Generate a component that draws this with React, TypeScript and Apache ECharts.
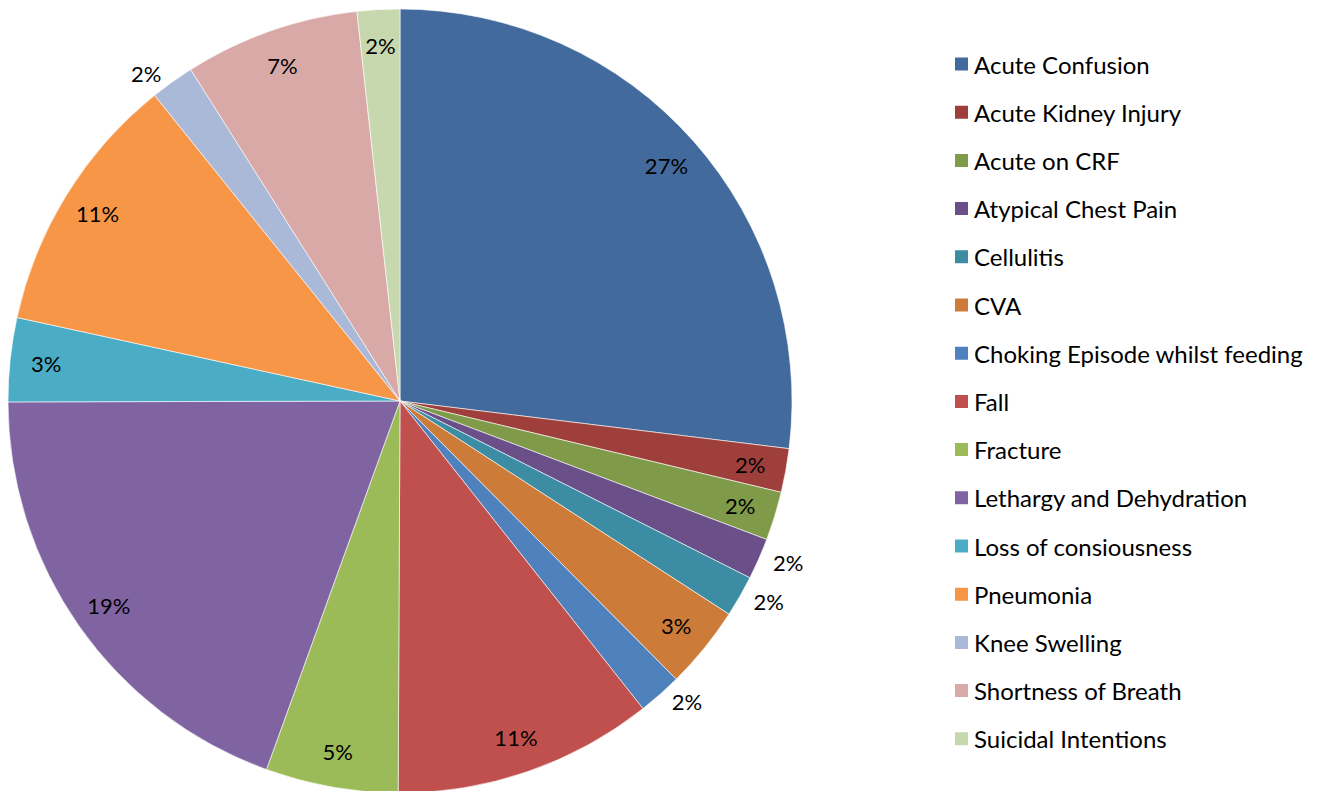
import React, { useEffect, useRef } from "react";
import * as echarts from "echarts";

const categories = [
  "Acute Confusion",
  "Acute Kidney Injury",
  "Acute on CRF",
  "Atypical Chest Pain",
  "Cellulitis",
  "CVA",
  "Choking Episode whilst feeding",
  "Fall",
  "Fracture",
  "Lethargy and Dehydration",
  "Loss of consiousness",
  "Pneumonia",
  "Knee Swelling",
  "Shortness of Breath",
  "Suicidal Intentions",
];

const values = [26.9, 1.8, 2.0, 1.7, 1.7, 3.4, 1.8, 10.7, 5.45, 19.4, 3.45, 10.8, 1.8, 7.2, 1.75];

const colors = [
  "#426A9C", "#9E3F3C", "#7F9A48", "#6A4F88", "#3C8DA3", "#CC7B38",
  "#4F81BD", "#C0504D", "#9BBB59", "#8064A2", "#4BACC6", "#F79646",
  "#AAB9D8", "#D9A9A8", "#C7D8AE",
];

const outsideLabels = ["Atypical Chest Pain", "Cellulitis", "Choking Episode whilst feeding", "Knee Swelling"];

const FONT = "Lato, 'Open Sans', sans-serif";

export default function App() {
  const ref = useRef<HTMLDivElement>(null);
  useEffect(() => {
    if (!ref.current) return;
    const chart = echarts.init(ref.current, undefined, { renderer: "svg" });
    const center = [400, 401];
    const R = 392;
    const baseData = categories.map((name, i) => ({ name, value: values[i] }));
    const labelData = categories.map((name, i) => {
      const outside = outsideLabels.includes(name);
      return {
        name,
        value: values[i],
        label: { position: outside ? "outside" : "inside" },
        labelLine: { show: false, length: 10, length2: 0 },
      };
    });
    chart.setOption({
      animation: false,
      color: colors,
      legend: {
        orient: "vertical",
        left: 948,
        top: 47,
        icon: "rect",
        itemWidth: 15,
        itemHeight: 15,
        itemGap: 24.2,
        selectedMode: false,
        data: categories,
        textStyle: { fontFamily: FONT, fontSize: 24, color: "#000", lineHeight: 24 },
      },
      series: [
        {
          type: "pie",
          center,
          radius: [0, R],
          startAngle: 90,
          clockwise: true,
          data: baseData,
          label: { show: false },
          labelLine: { show: false },
          itemStyle: { borderColor: "#ffffff", borderWidth: 0.6 },
          emphasis: { disabled: true },
        },
        {
          type: "pie",
          center,
          radius: [R * 0.8, R],
          startAngle: 90,
          clockwise: true,
          silent: true,
          legendHoverLink: false,
          avoidLabelOverlap: false,
          data: labelData,
          itemStyle: { color: "rgba(0,0,0,0)", borderWidth: 0 },
          label: {
            show: true,
            formatter: (p: any) => Math.round(p.percent) + "%",
            fontFamily: FONT,
            fontSize: 22,
            color: "#000",
          },
          emphasis: { disabled: true },
        },
      ],
    });
    return () => chart.dispose();
  }, []);
  return (
    <div
      ref={ref}
      style={{ position: "absolute", left: 0, top: 0, width: 1327, height: 791, background: "#fff" }}
    />
  );
}
